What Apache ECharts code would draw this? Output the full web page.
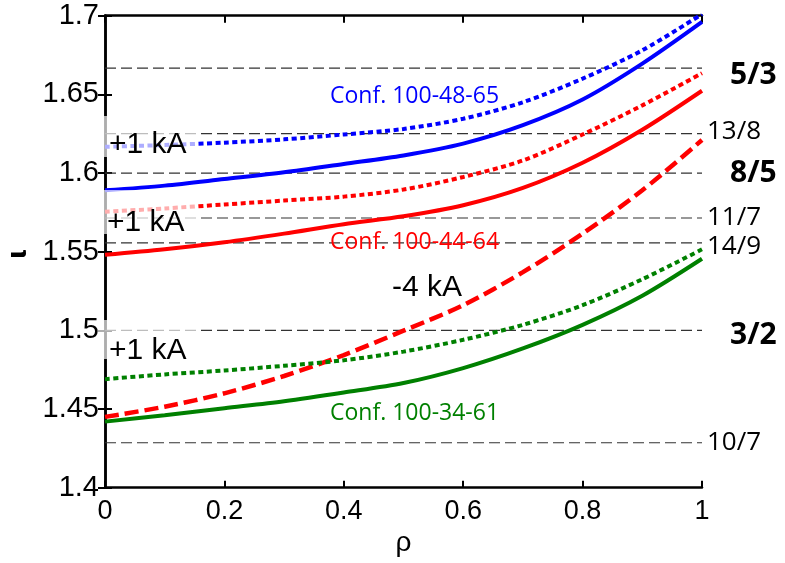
<!DOCTYPE html>
<html>
<head>
<meta charset="utf-8">
<script src="https://cdn.jsdelivr.net/npm/echarts@6/dist/echarts.min.js"></script>
<style>
html,body{margin:0;padding:0;background:#fff;}
#chart{width:785px;height:563px;}
</style>
</head>
<body>
<div id="chart"></div>
<script>
// ---- data ----
const rho = [0, 0.1, 0.2, 0.3, 0.4, 0.5, 0.6, 0.7, 0.8, 0.9, 1.0];
const blueSolid  = [1.589, 1.592, 1.5962, 1.6005, 1.6058, 1.6112, 1.6187, 1.6304, 1.6467, 1.6695, 1.696];
const blueDotted = [1.6167, 1.6178, 1.6193, 1.6214, 1.6245, 1.628, 1.6345, 1.645, 1.660, 1.678, 1.701];
const redSolid   = [1.548, 1.5515, 1.556, 1.5615, 1.5675, 1.5725, 1.5795, 1.5905, 1.6065, 1.6275, 1.6523];
const redDotted  = [1.5754, 1.5775, 1.580, 1.5825, 1.585, 1.5895, 1.5975, 1.608, 1.6245, 1.643, 1.6635];
const redDashed  = [1.445, 1.4515, 1.46, 1.471, 1.4843, 1.4998, 1.516, 1.537, 1.5615, 1.589, 1.621];
const greenSolid = [1.442, 1.446, 1.4505, 1.455, 1.4605, 1.4665, 1.476, 1.4885, 1.5035, 1.522, 1.5455];
const greenDotted= [1.469, 1.472, 1.4745, 1.4775, 1.481, 1.4865, 1.494, 1.5035, 1.516, 1.5325, 1.5515];

const resonanceNames  = ['5/3', '13/8', '8/5', '11/7', '14/9', '3/2', '10/7'];
const resonanceValues = [5/3, 13/8, 8/5, 11/7, 14/9, 3/2, 10/7];
const resonanceMajor  = [true, false, true, false, false, true, false];

const confLabels = ['Conf. 100-48-65', 'Conf. 100-44-64', 'Conf. 100-34-61'];
const currentLabels = ['+1 kA', '+1 kA', '+1 kA', '-4 kA'];
const axisNames = ['ρ', 'ι'];

// ---- styles (not data) ----
const labelDy = [7, -2, 0, 0, 4, 5, 0];

function pairs(ys){ return rho.map((x,i)=>[x, ys[i]]); }

const chart = echarts.init(document.getElementById('chart'), null, {renderer:'canvas'});

const axisLineStyle = {color:'#000', width:2.5};
const tickStyle = {show:true, inside:true, length:7, lineStyle:{color:'#000', width:2}};

const resonanceSeries = resonanceValues.map((v,i)=>({
  type:'line', data:[[0, v],[1, v]], showSymbol:false, symbol:'none', silent:true, z:1,
  lineStyle:{color:'#333', width:1.2, type:[11,5]},
  endLabel:{
    show:true,
    formatter: resonanceNames[i],
    color:'#000',
    fontFamily:'Open Sans',
    fontWeight: resonanceMajor[i] ? 'bold' : 'normal',
    fontSize: resonanceMajor[i] ? 30 : 26,
    distance: resonanceMajor[i] ? 28 : 5,
    offset:[0, labelDy[i]]
  }
}));

function lineSeries(ys, color, type, width){
  return {
    type:'line', data: pairs(ys), showSymbol:false, symbol:'none',
    smooth: 0.3,
    lineStyle:{color:color, width:width, type:type, cap:'butt'},
    z: 3, silent:true
  };
}

const option = {
  animation:false,
  backgroundColor:'#fff',
  grid:{left:105, right:83, top:15.7, bottom:75.3, containLabel:false},
  xAxis:[
    {type:'value', min:0, max:1, interval:0.2, position:'bottom',
     axisLine:{show:true, lineStyle:axisLineStyle}, axisTick:tickStyle,
     axisLabel:{color:'#000', fontFamily:'Liberation Sans', fontSize:27, margin:10,
       formatter:v=>String(+v.toFixed(1))},
     splitLine:{show:false},
     name:axisNames[0], nameLocation:'middle', nameGap:42,
     nameTextStyle:{color:'#000', fontFamily:'Liberation Sans', fontSize:28}},
    {type:'value', min:0, max:1, interval:0.2, position:'top',
     axisLine:{show:true, lineStyle:axisLineStyle}, axisTick:tickStyle,
     axisLabel:{show:false}, splitLine:{show:false}}
  ],
  yAxis:[
    {type:'value', min:1.4, max:1.7, interval:0.05, position:'left',
     axisLine:{show:true, lineStyle:axisLineStyle}, axisTick:tickStyle,
     axisLabel:{color:'#000', fontFamily:'Liberation Sans', fontSize:29, margin:6,
       formatter:v=>String(+v.toFixed(2))},
     splitLine:{show:false}},
    {type:'value', min:1.4, max:1.7, interval:0.05, position:'right',
     axisLine:{show:true, lineStyle:axisLineStyle}, axisTick:tickStyle,
     axisLabel:{show:false}, splitLine:{show:false}}
  ],
  series: resonanceSeries.concat([
    lineSeries(blueSolid, '#0000ff', 'solid', 4),
    lineSeries(blueDotted, '#0000ff', [5,3.5], 4),
    lineSeries(redSolid, '#ff0000', 'solid', 4),
    lineSeries(redDotted, '#ff0000', [5,3.5], 4),
    lineSeries(redDashed, '#ff0000', [14,6], 4.5),
    lineSeries(greenSolid, '#008000', 'solid', 4),
    lineSeries(greenDotted, '#008000', [5,3.5], 4)
  ]),
  graphic:[
    {type:'text', x:19, y:254, rotation:Math.PI/2, z:101,
     style:{text:axisNames[1], fill:'#000', font:'bold 26px "DejaVu Sans"', align:'center', verticalAlign:'middle'}},
    {type:'rect', shape:{x:98, y:116, width:100, height:41}, style:{fill:'rgba(255,255,255,0.68)'}, z:100},
    {type:'rect', shape:{x:98, y:190, width:100, height:44}, style:{fill:'rgba(255,255,255,0.68)'}, z:100},
    {type:'rect', shape:{x:98, y:320, width:100, height:39}, style:{fill:'rgba(255,255,255,0.68)'}, z:100},
    {type:'text', x:109, y:145, z:101, style:{text:currentLabels[0], fill:'#000', font:'30px "Liberation Sans"', verticalAlign:'middle'}},
    {type:'text', x:107, y:223, z:101, style:{text:currentLabels[1], fill:'#000', font:'30px "Liberation Sans"', verticalAlign:'middle'}},
    {type:'text', x:109, y:351, z:101, style:{text:currentLabels[2], fill:'#000', font:'30px "Liberation Sans"', verticalAlign:'middle'}},
    {type:'text', x:392, y:288, z:101, style:{text:currentLabels[3], fill:'#000', font:'30px "Liberation Sans"', verticalAlign:'middle'}},
    {type:'text', x:330, y:96, z:101, style:{text:confLabels[0], fill:'#0000ff', font:'23px "Open Sans"', verticalAlign:'middle'}},
    {type:'text', x:330, y:242, z:101, style:{text:confLabels[1], fill:'#ff0000', font:'23px "Open Sans"', verticalAlign:'middle'}},
    {type:'text', x:330, y:413, z:101, style:{text:confLabels[2], fill:'#008000', font:'23px "Open Sans"', verticalAlign:'middle'}}
  ]
};
chart.setOption(option);
</script>
</body>
</html>
